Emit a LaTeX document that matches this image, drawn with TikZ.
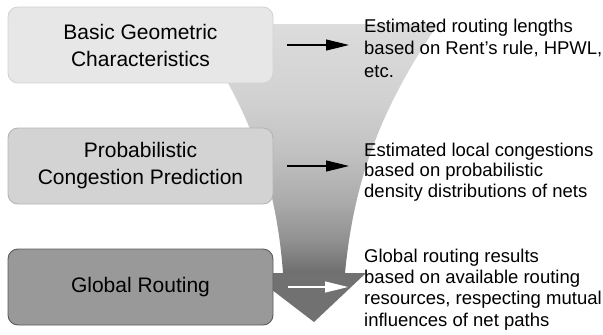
\documentclass[tikz,border=0pt]{standalone}
\usepackage{fontspec}
\setmainfont{Liberation Sans}
\usetikzlibrary{arrows.meta}

\definecolor{boxAfill}{HTML}{E7E7E7}
\definecolor{boxAline}{HTML}{D3D3D3}
\definecolor{boxBfill}{HTML}{D3D3D3}
\definecolor{boxBline}{HTML}{B4B4B4}
\definecolor{boxCfill}{HTML}{999999}
\definecolor{boxCline}{HTML}{5A5A5A}
\definecolor{fA}{HTML}{6E6E6E}
\definecolor{fB}{HTML}{919191}
\definecolor{fC}{HTML}{ACACAC}
\definecolor{fD}{HTML}{C2C2C2}
\definecolor{fE}{HTML}{D1D1D1}
\definecolor{fF}{HTML}{DCDCDC}
\definecolor{funnelTip}{HTML}{717171}

% vertical grey ramp: dark at the bottom, staying light over the upper half
\pgfdeclareverticalshading{funnelshade}{100bp}{%
  color(0bp)=(fA); color(25bp)=(fA); color(31.6bp)=(fB);
  color(39.7bp)=(fC); color(49.7bp)=(fD); color(59.7bp)=(fE);
  color(75bp)=(fF); color(100bp)=(fF)}

\begin{document}
\begin{tikzpicture}[x=1pt,y=-1pt,
  stagebox/.style={rounded corners=10pt, line width=0.9pt,
    minimum width=265pt, minimum height=76pt, inner sep=0pt,
    align=center, font=\fontsize{21}{27}\selectfont},
  note/.style={anchor=base west, inner sep=0pt, align=left},
  flowarrow/.style={line width=1.1pt,
    -{Triangle[length=23pt,width=11pt]}}
]
\useasboundingbox (0,0) rectangle (603,335);

% funnel body
\shade[shading=funnelshade]
  (192,24) -- (438,24)
  .. controls (380,110) and (354,180) .. (345,273)
  -- (283,273)
  .. controls (276,180) and (250,110) .. (192,24) -- cycle;
% funnel arrowhead
\fill[funnelTip] (250,273) -- (366,273) -- (314,322) -- cycle;

% stage boxes
\node[stagebox, draw=boxAline, fill=boxAfill] (basic) at (140.5,45)
  {Basic Geometric\\Characteristics};
\node[stagebox, draw=boxBline, fill=boxBfill] (prob) at (140.5,166)
  {Probabilistic\\Congestion Prediction};
\node[stagebox, draw=boxCline, fill=boxCfill] (glob) at (140.5,287)
  {Global Routing};

% outcome arrows
\coordinate (a1s) at (287,45);  \coordinate (a1e) at (349,45);
\coordinate (a2s) at (287,166); \coordinate (a2e) at (349,166);
\coordinate (a3s) at (288,287); \coordinate (a3e) at (348,287);
\draw[flowarrow] (a1s) -- (a1e);
\draw[flowarrow] (a2s) -- (a2e);
\draw[flowarrow, white] (a3s) -- (a3e);

% outcome descriptions (placed by the baseline of their last line)
\node[note, font=\fontsize{18.5}{22.5}\selectfont] (t1) at (364,77)
  {Estimated routing lengths\\based on Rent’s rule, HPWL,\\etc.};
\node[note, font=\fontsize{18.5}{20.5}\selectfont] (t2) at (364,197)
  {Estimated local congestions\\based on probabilistic\\density distributions of nets};
\node[note, font=\fontsize{18.5}{21.3}\selectfont] (t3) at (364,326)
  {Global routing results\\based on available routing\\resources, respecting mutual\\influences of net paths};
\end{tikzpicture}
\end{document}
